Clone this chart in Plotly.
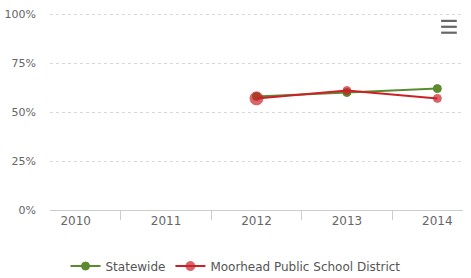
import plotly.graph_objects as go

years = ["2010", "2011", "2012", "2013", "2014"]
statewide = [None, None, 58, 60, 62]
moorhead = [None, None, 57, 61, 57]
y_ticks = [0, 25, 50, 75, 100]
y_tick_labels = ["0%", "25%", "50%", "75%", "100%"]

green = "#5b8a2f"
red = "#cc2027"

fig = go.Figure()
fig.add_trace(go.Scatter(
    x=years, y=statewide, name="Statewide", mode="lines+markers",
    line=dict(color=green, width=2),
    marker=dict(color=green, size=8, symbol="circle", line=dict(color=green, width=1)),
))
fig.add_trace(go.Scatter(
    x=years, y=moorhead, name="Moorhead Public School District", mode="lines+markers",
    line=dict(color=red, width=2),
    marker=dict(color=red, size=[8, 8, 13, 8, 8], symbol="circle", line=dict(color=red, width=1)),
))

fig.update_layout(
    width=471, height=278,
    margin=dict(l=50, r=8, t=13, b=68),
    paper_bgcolor="white", plot_bgcolor="white",
    font=dict(family="DejaVu Sans", size=12, color="#666666"),
    showlegend=True,
    legend=dict(orientation="h", xref="container", yref="container",
                x=0.5, xanchor="center", y=0.043, yanchor="middle",
                font=dict(size=12, color="#555555"), itemwidth=30,
                bgcolor="rgba(0,0,0,0)"),
    xaxis=dict(type="category", tickson="boundaries", ticks="outside", ticklen=9,
               tickcolor="#cccccc", showline=True, linecolor="#cccccc", linewidth=1,
               showgrid=False, tickfont=dict(size=12, color="#666666"), fixedrange=True,
               automargin=False),
    yaxis=dict(range=[0, 100.6], tickvals=y_ticks, ticktext=y_tick_labels,
               showgrid=True, gridcolor="#d8d8d8", griddash="dot", gridwidth=1,
               zeroline=False, showline=False, ticks="", ticklabelstandoff=13,
               tickfont=dict(size=11, color="#666666"), fixedrange=True,
               automargin=False),
)

# hamburger menu icon
for yy in [0.96, 0.93, 0.90]:
    fig.add_shape(type="line", xref="paper", yref="paper",
                  x0=0.947, x1=0.985, y0=yy, y1=yy,
                  line=dict(color="#666666", width=2.2))

fig.write_html("out.html", config={"displayModeBar": False},
               post_script="document.body.style.margin='0';document.body.style.overflow='hidden';")
